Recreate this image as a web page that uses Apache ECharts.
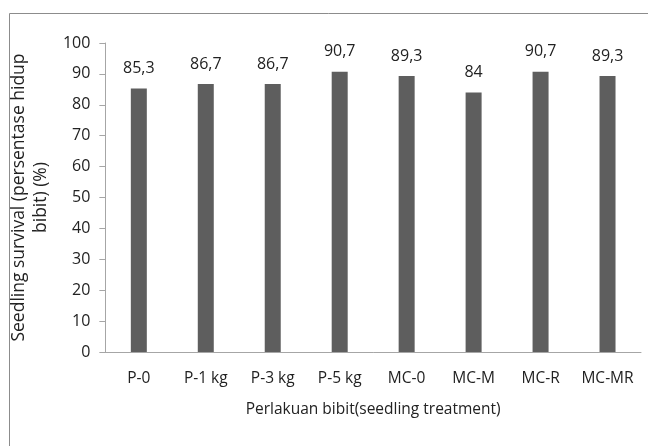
<!DOCTYPE html>
<html><head><meta charset="utf-8">
<script src="https://cdn.jsdelivr.net/npm/echarts@6/dist/echarts.min.js"></script>
<style>html,body{margin:0;padding:0;background:#fff}#c{width:648px;height:446px}</style>
</head><body><div id="c"></div>
<script>
var categories = ['P-0','P-1 kg','P-3 kg','P-5 kg','MC-0','MC-M','MC-R','MC-MR'];
var values = [85.3, 86.7, 86.7, 90.7, 89.3, 84, 90.7, 89.3];
var yTicks = [0,10,20,30,40,50,60,70,80,90,100];
var FONT = 'Open Sans';
var chart = echarts.init(document.getElementById('c'));
chart.setOption({
  animation: false,
  backgroundColor: '#fff',
  graphic: [
    {type:'line', shape:{x1:9.5,y1:13.5,x2:648,y2:13.5}, style:{stroke:'#8c8c8c',lineWidth:1}},
    {type:'line', shape:{x1:9.5,y1:13.5,x2:9.5,y2:446}, style:{stroke:'#8c8c8c',lineWidth:1}}
  ],
  grid: {left:102, right:7, top:43, bottom:94, containLabel:false},
  xAxis: {
    type:'category', data: categories,
    axisLine:{lineStyle:{color:'#a6a6a6'}},
    axisTick:{show:false},
    axisLabel:{color:'#222', fontFamily:FONT, fontSize:15.5, margin:19, interval:0, hideOverlap:false},
    name:'Perlakuan bibit(seedling treatment)', nameLocation:'middle', nameGap:50,
    nameTextStyle:{color:'#222', fontFamily:FONT, fontSize:15.5}
  },
  yAxis: {
    type:'value', min:yTicks[0], max:yTicks[yTicks.length-1], interval:10,
    axisLine:{show:true, lineStyle:{color:'#a6a6a6'}},
    axisTick:{show:true, length:6, lineStyle:{color:'#a6a6a6'}},
    splitLine:{show:false},
    axisLabel:{color:'#222', fontFamily:FONT, fontSize:16, margin:15},
    name:'Seedling survival (persentase hidup\nbibit) (%)', nameLocation:'middle', nameGap:49,
    nameTextStyle:{color:'#222', fontFamily:FONT, fontSize:17.5, lineHeight:22}
  },
  series: [{
    type:'bar', data: values, barWidth:16,
    itemStyle:{color:'#5e5e5e'},
    label:{show:true, position:'top', distance:12, color:'#222', fontFamily:FONT, fontSize:16,
      formatter:function(p){return String(p.value).replace('.',',');}}
  }]
});
</script></body></html>
